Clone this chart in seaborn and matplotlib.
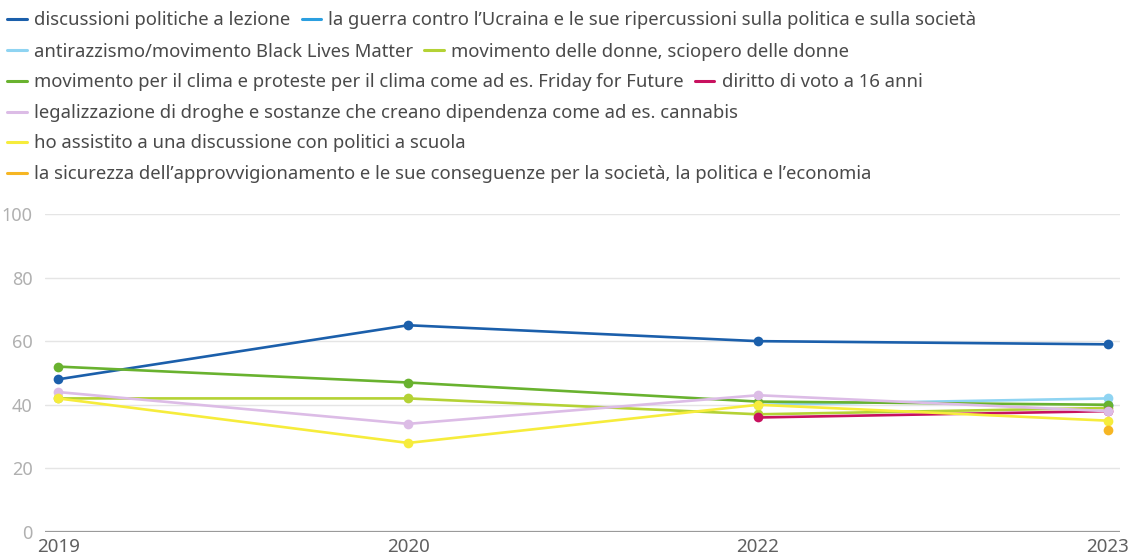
import numpy as np
import pandas as pd
import matplotlib
matplotlib.use("Agg")
import matplotlib.pyplot as plt
from matplotlib.lines import Line2D
import seaborn as sns

# --- data ---
years = ["2019", "2020", "2022", "2023"]

series_names = [
    "discussioni politiche a lezione",
    "la guerra contro l\u2019Ucraina e le sue ripercussioni sulla politica e sulla società",
    "antirazzismo/movimento Black Lives Matter",
    "movimento delle donne, sciopero delle donne",
    "movimento per il clima e proteste per il clima come ad es. Friday for Future",
    "diritto di voto a 16 anni",
    "legalizzazione di droghe e sostanze che creano dipendenza come ad es. cannabis",
    "ho assistito a una discussione con politici a scuola",
    "la sicurezza dell\u2019approvvigionamento e le sue conseguenze per la società, la politica e l\u2019economia",
]

discussioni = [48, 65, 60, 59]
guerra_ucraina = [np.nan, np.nan, np.nan, 40]
antirazzismo = [np.nan, np.nan, 40, 42]
donne = [42, 42, 37, 39]
clima = [52, 47, 41, 40]
voto_16 = [np.nan, np.nan, 36, 38]
legalizzazione = [44, 34, 43, 38]
politici_scuola = [42, 28, 40, 35]
sicurezza = [np.nan, np.nan, np.nan, 32]

colors = ["#1b5fab", "#2b9fe0", "#8fd4f2", "#b4d235", "#69b22f",
          "#c8115f", "#dcbce6", "#f6ec3c", "#f6b623"]

all_values = [discussioni, guerra_ucraina, antirazzismo, donne, clima,
              voto_16, legalizzazione, politici_scuola, sicurezza]

rows = []
for name, vals in zip(series_names, all_values):
    for i, v in enumerate(vals):
        if not np.isnan(v):
            rows.append({"serie": name, "x": i, "valore": v})
df = pd.DataFrame(rows)

# --- plotting ---
sns.set_style("white")
plt.rcParams["font.family"] = ["Noto Sans", "DejaVu Sans"]

fig = plt.figure(figsize=(11.3, 5.6), dpi=100)
ax = fig.add_axes([0.04, 0.05, 0.951, 0.568])

sns.lineplot(data=df, x="x", y="valore", hue="serie", hue_order=series_names,
             palette=colors, marker="o", markersize=7, markeredgewidth=0,
             linewidth=1.9, legend=False, ax=ax, sort=False)

ax.set_ylim(0, 100)
ax.set_xlim(-0.037, 3.034)
ax.set_yticks([0, 20, 40, 60, 80, 100])
ax.set_xticks(range(len(years)))
ax.set_xticklabels(years)
ax.set_xlabel("")
ax.set_ylabel("")
ax.grid(axis="y", color="#e5e5e5", linewidth=1)
ax.grid(axis="x", visible=False)
ax.axhline(0, color="#9a9a9a", linewidth=1.6, zorder=1)
for s in ax.spines.values():
    s.set_visible(False)
ax.tick_params(axis="y", length=0, pad=9, labelsize=13, labelcolor="#b0b0b0")
ax.tick_params(axis="x", length=0, pad=4, labelsize=13.5, labelcolor="#606060")
ax.set_axisbelow(True)

# --- legend: flowing rows like the original ---
legend_rows = [[0, 1], [2, 3], [4, 5], [6], [7], [8]]
row_y = [0.964, 0.908, 0.853, 0.798, 0.744, 0.689]
for idx, y in zip(legend_rows, row_y):
    handles = [Line2D([0], [0], color=colors[i], linewidth=2.2) for i in idx]
    labels = [series_names[i] for i in idx]
    leg = fig.legend(handles, labels, loc="center left", bbox_to_anchor=(0.0, y),
                     ncol=len(idx), frameon=False, fontsize=13.3,
                     handlelength=1.05, handletextpad=0.4, columnspacing=0.6,
                     borderaxespad=0, borderpad=0.4)
    for t in leg.get_texts():
        t.set_color("#4a4a4a")

fig.savefig("out.png", dpi=100)
